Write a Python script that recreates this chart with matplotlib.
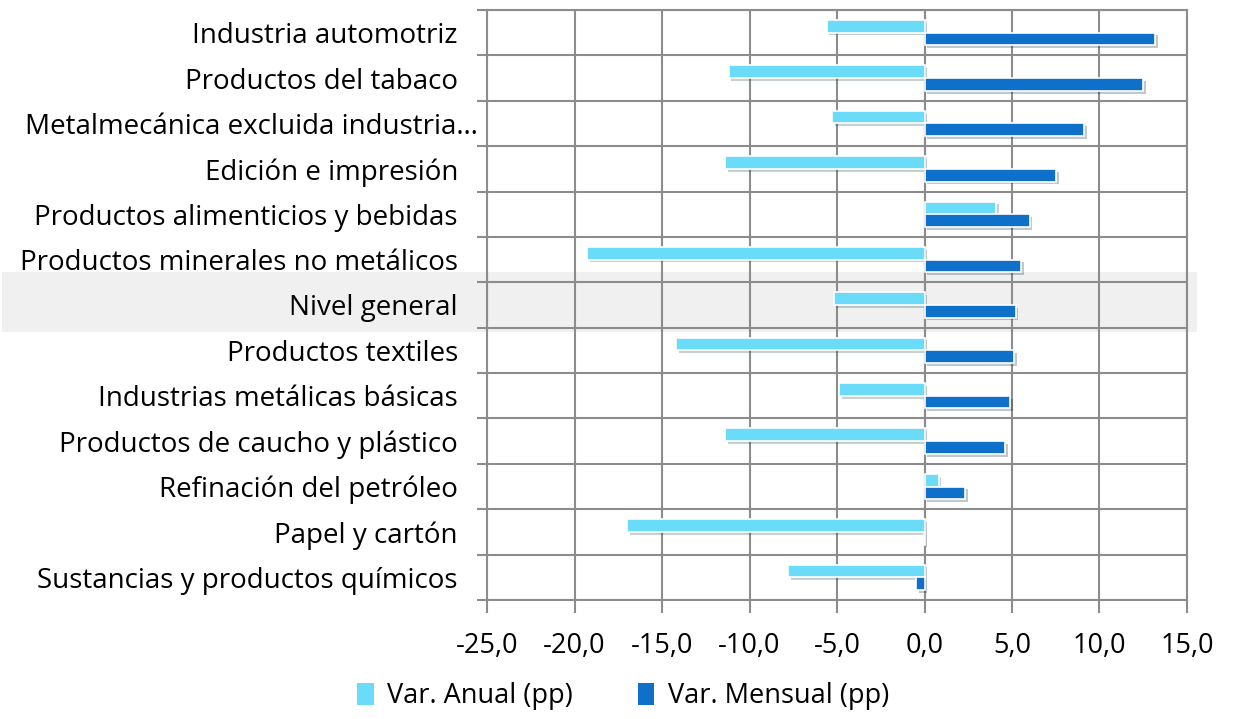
import numpy as np
import matplotlib.pyplot as plt
import matplotlib.patheffects as pe
import matplotlib.transforms as mtrans
from matplotlib.patches import Rectangle, Patch

plt.rcParams["font.family"] = ["Open Sans", "DejaVu Sans"]

# Datos (de arriba hacia abajo)
categorias = [
    "Industria automotriz",
    "Productos del tabaco",
    "Metalmecánica excluida industria…",
    "Edición e impresión",
    "Productos alimenticios y bebidas",
    "Productos minerales no metálicos",
    "Nivel general",
    "Productos textiles",
    "Industrias metálicas básicas",
    "Productos de caucho y plástico",
    "Refinación del petróleo",
    "Papel y cartón",
    "Sustancias y productos químicos",
]
var_anual = [-5.6, -11.2, -5.3, -11.4, 4.1, -19.3, -5.2, -14.2, -4.9, -11.4, 0.8, -17.0, -7.8]
var_mensual = [13.2, 12.5, 9.1, 7.5, 6.0, 5.5, 5.2, 5.1, 4.9, 4.6, 2.3, -0.05, -0.5]

color_anual = "#6ADBF8"
color_mensual = "#0E70C8"
gris = "#8C8C8C"

fig = plt.figure(figsize=(12.34, 7.19), dpi=100)
ax = fig.add_axes([0.3947, 0.1655, 0.5672, 0.8206])
ax.set_facecolor("none")
ax.set_zorder(2)

n = len(categorias)
y = np.arange(n)
h = 0.28

sombra = [pe.SimplePatchShadow(offset=(2, -2), alpha=0.25), pe.Normal()]
b1 = ax.barh(y - h / 2, var_anual, height=h, color=color_anual, edgecolor="white",
             linewidth=1.2, zorder=3)
b2 = ax.barh(y + h / 2, var_mensual, height=h, color=color_mensual, edgecolor="white",
             linewidth=1.2, zorder=3)
for b in list(b1) + list(b2):
    b.set_path_effects(sombra)

ax.set_xlim(-25, 15)
ax.set_ylim(n - 0.5, -0.5)
ticks_x = np.arange(-25, 16, 5)
ax.set_xticks(ticks_x)
ax.set_xticklabels([f"{v:.1f}".replace(".", ",") for v in ticks_x], fontsize=19.5)
ax.set_yticks(y)
ax.set_yticklabels(categorias, fontsize=20)
ax.set_yticks(np.arange(-0.5, n, 1), minor=True)
ax.tick_params(axis="y", which="major", length=0, pad=21)
ax.tick_params(axis="y", which="minor", length=7, color=gris, width=1.5)
ax.tick_params(axis="x", length=9, color=gris, width=1.5, pad=14)

# la etiqueta recortada sobresale un poco hacia la derecha
etiqueta = ax.get_yticklabels()[2]
etiqueta.set_transform(etiqueta.get_transform()
                       + mtrans.ScaledTranslation(20 / 100, 0, fig.dpi_scale_trans))

ax.grid(axis="x", color=gris, linewidth=1.5, zorder=1)
ax.grid(axis="y", which="minor", color=gris, linewidth=1.5, zorder=1)
ax.set_axisbelow(True)
for s in ax.spines.values():
    s.set_color(gris)
    s.set_linewidth(1.5)
ax.axvline(0, color=gris, linewidth=1.5, zorder=2)

# Banda resaltada de "Nivel general"
fig.patches.append(Rectangle((2 / 1234, 1 - 332 / 719), 1195 / 1234, 60 / 719,
                             transform=fig.transFigure, facecolor="#F0F0F0",
                             edgecolor="none", zorder=0))

handles = [Patch(facecolor=color_anual, label="Var. Anual (pp)"),
           Patch(facecolor=color_mensual, label="Var. Mensual (pp)")]
fig.legend(handles=handles, loc="lower center", bbox_to_anchor=(0.505, -0.022),
           ncol=2, frameon=False, prop={"size": 19.5},
           handlelength=0.6, handleheight=0.9, handletextpad=0.5, columnspacing=2.4)

fig.savefig("out.png", dpi=100)
